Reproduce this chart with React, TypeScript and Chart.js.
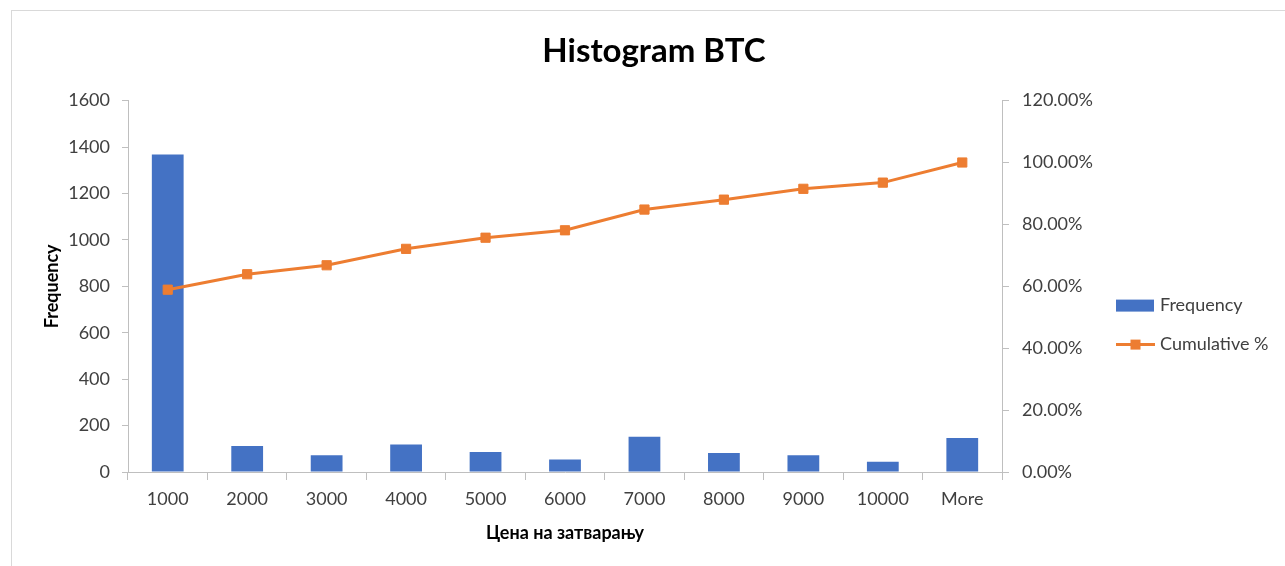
import React, { useEffect, useRef } from "react";
import { Chart, registerables } from "chart.js";

Chart.register(...registerables);

const categories = ["1000", "2000", "3000", "4000", "5000", "6000", "7000", "8000", "9000", "10000", "More"];
const frequency = [1368, 112, 72, 118, 86, 54, 152, 82, 72, 44, 147];
const cumulativePct = [58.9, 63.9, 66.8, 72.1, 75.7, 78.1, 84.8, 88.0, 91.5, 93.5, 100.0];
const leftTicksMax = 1600;
const rightTicksMax = 120;

const BLUE = "#4472C4";
const ORANGE = "#ED7D31";
const AXIS = "#BFBFBF";
const TICK_TEXT = "#404040";
const FONT = "Lato, 'Open Sans', sans-serif";

const legendPlugin = {
  id: "customLegend",
  afterDraw(chart: any) {
    const ctx = chart.ctx;
    const area = chart.chartArea;
    const x0 = area.right + 114;
    const y1 = area.top + 205;
    const y2 = area.top + 244;
    ctx.save();
    ctx.fillStyle = chart.data.datasets[0].backgroundColor;
    ctx.fillRect(x0, y1 - 6, 38, 12);
    ctx.strokeStyle = chart.data.datasets[1].borderColor;
    ctx.lineWidth = 3;
    ctx.beginPath();
    ctx.moveTo(x0, y2);
    ctx.lineTo(x0 + 39, y2);
    ctx.stroke();
    ctx.fillStyle = chart.data.datasets[1].borderColor;
    ctx.fillRect(x0 + 19.5 - 5, y2 - 5, 10, 10);
    ctx.fillStyle = TICK_TEXT;
    ctx.font = `18px ${FONT}`;
    ctx.textBaseline = "middle";
    ctx.textAlign = "left";
    ctx.fillText(chart.data.datasets[0].label, x0 + 44, y1);
    ctx.fillText(chart.data.datasets[1].label, x0 + 44, y2);
    ctx.restore();
  },
};

export default function App() {
  const ref = useRef<HTMLCanvasElement | null>(null);

  useEffect(() => {
    if (!ref.current) return;
    const chart = new Chart(ref.current, {
      type: "bar",
      data: {
        labels: categories,
        datasets: [
          {
            type: "bar",
            label: "Frequency",
            data: frequency,
            backgroundColor: BLUE,
            borderWidth: 0,
            barPercentage: 0.4,
            categoryPercentage: 1,
            yAxisID: "y",
            order: 2,
          },
          {
            type: "line",
            label: "Cumulative %",
            data: cumulativePct,
            borderColor: ORANGE,
            backgroundColor: ORANGE,
            borderWidth: 3,
            pointStyle: "rect",
            pointRadius: 6.5,
            pointBorderWidth: 1,
            pointBackgroundColor: ORANGE,
            pointBorderColor: ORANGE,
            tension: 0,
            yAxisID: "y1",
            order: 1,
          } as any,
        ],
      },
      options: {
        animation: false,
        responsive: false,
        maintainAspectRatio: false,
        layout: { padding: { left: 41, right: 18, top: 0, bottom: 22 } },
        plugins: {
          legend: { display: false },
          tooltip: { enabled: false },
          title: {
            display: true,
            text: "Histogram BTC",
            color: "#000000",
            font: { family: FONT, size: 33, weight: "bold" },
            padding: { top: 32, bottom: 29 },
          },
        },
        scales: {
          x: {
            offset: true,
            grid: {
              display: true,
              drawOnChartArea: false,
              drawTicks: true,
              tickLength: 8,
              color: AXIS,
              offset: true,
            },
            border: { display: true, color: AXIS, width: 1 },
            ticks: {
              color: TICK_TEXT,
              font: { family: FONT, size: 18 },
              padding: 8,
              maxRotation: 0,
              autoSkip: false,
            },
            title: {
              display: true,
              text: "Цена на затварању",
              color: "#000000",
              font: { family: FONT, size: 18, weight: "bold" },
              padding: 0,
            },
            afterFit(scale: any) {
              scale.height = 72;
            },
          },
          y: {
            position: "left",
            min: 0,
            max: leftTicksMax,
            grid: {
              display: true,
              drawOnChartArea: false,
              drawTicks: true,
              tickLength: 6,
              color: AXIS,
            },
            border: { display: true, color: AXIS, width: 1 },
            ticks: {
              stepSize: 200,
              color: TICK_TEXT,
              font: { family: FONT, size: 18 },
              padding: 12,
              callback: (v: any) => String(v),
            },
            title: {
              display: true,
              text: "Frequency",
              color: "#000000",
              font: { family: FONT, size: 18, weight: "bold" },
              padding: 0,
            },
            afterFit(scale: any) {
              scale.width = 87;
            },
          },
          y1: {
            position: "right",
            min: 0,
            max: rightTicksMax,
            grid: {
              display: true,
              drawOnChartArea: false,
              drawTicks: true,
              tickLength: 7,
              color: AXIS,
            },
            border: { display: true, color: AXIS, width: 1 },
            ticks: {
              stepSize: 20,
              color: TICK_TEXT,
              font: { family: FONT, size: 18 },
              padding: 13,
              callback: (v: any) => Number(v).toFixed(2) + "%",
            },
            afterFit(scale: any) {
              scale.width = 265;
            },
          },
        },
      },
      plugins: [legendPlugin],
    });
    return () => chart.destroy();
  }, []);

  return (
    <div style={{ position: "fixed", left: 0, top: 0, width: 1285, height: 566, overflow: "hidden", background: "#ffffff" }}>
      <div
        style={{
          position: "absolute",
          left: 11,
          top: 10,
          width: 1273,
          height: 600,
          borderLeft: "1px solid #D9D9D9",
          borderTop: "1px solid #D9D9D9",
        }}
      />
      <canvas ref={ref} width={1285} height={566} style={{ position: "absolute", left: 0, top: 0 }} />
    </div>
  );
}
